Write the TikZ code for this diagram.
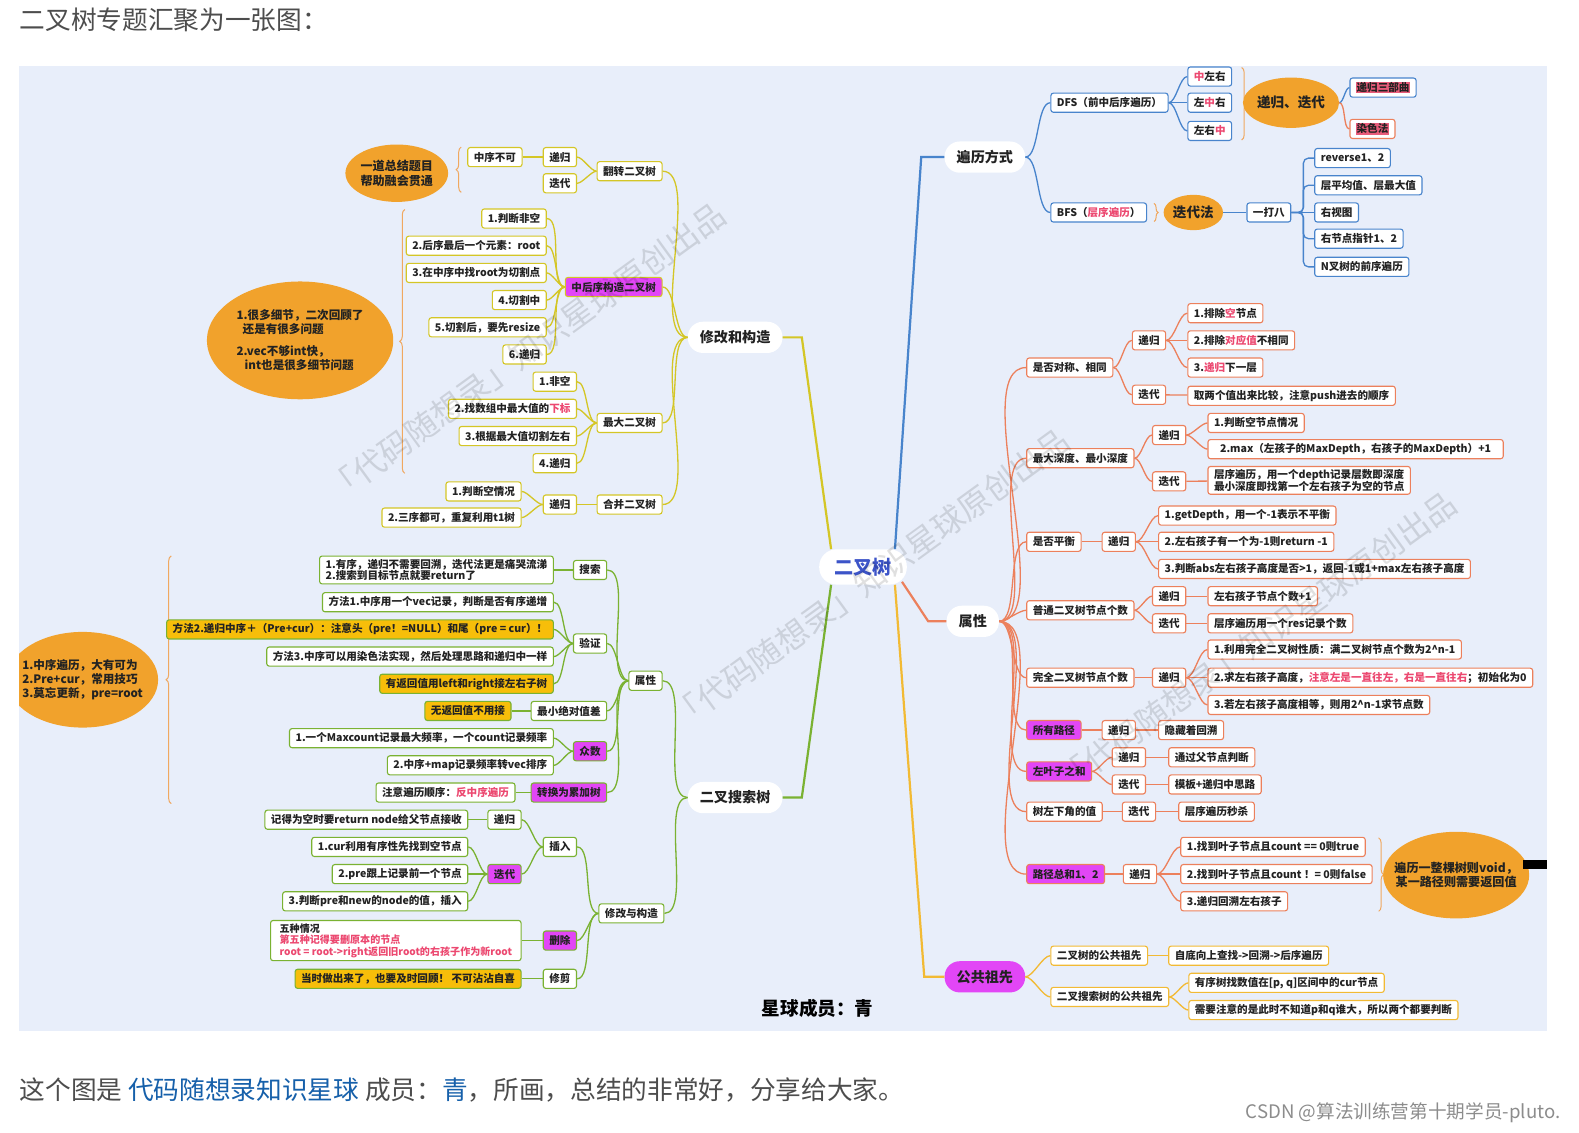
\documentclass[tikz,border=0pt]{standalone}
\usepackage{fontspec}
\setmainfont{Noto Sans CJK SC}
\usetikzlibrary{shapes.geometric,decorations.pathreplacing}

\definecolor{bgblue}{RGB}{232,238,250}
\definecolor{ylw}{RGB}{212,198,38}
\definecolor{grn}{RGB}{122,178,50}
\definecolor{blu}{RGB}{72,132,204}
\definecolor{org}{RGB}{236,128,92}
\definecolor{gld}{RGB}{242,186,52}
\definecolor{brc}{RGB}{240,168,96}
\definecolor{mgt}{RGB}{226,70,246}
\definecolor{hlt}{RGB}{247,190,10}
\definecolor{ell}{RGB}{241,162,44}
\definecolor{pnk}{RGB}{236,72,112}
\definecolor{txt}{RGB}{34,34,34}
\definecolor{rootblue}{RGB}{60,84,200}
\definecolor{hlred}{RGB}{232,92,122}
\definecolor{linkblue}{RGB}{22,96,170}
\definecolor{head}{RGB}{77,77,77}

\newcommand{\pk}[1]{\textcolor{pnk}{#1}}
\newcommand{\hlr}[1]{{\setlength{\fboxsep}{0.6pt}\colorbox{hlred}{#1}}}

\tikzset{
  box/.style={draw, fill=white, rounded corners=2.5pt, line width=1.1pt, text=txt,
    font=\bfseries\fontsize{10.5}{11.5}\selectfont, inner xsep=6pt, inner ysep=2pt,
    minimum height=19pt, align=left},
  ybox/.style={box, draw=ylw},
  gbox/.style={box, draw=grn},
  bbox/.style={box, draw=blu},
  obox/.style={box, draw=org},
  kbox/.style={box, draw=gld},
  mag/.style={fill=mgt},
  hi/.style={fill=hlt},
  pill/.style={fill=white, rounded corners=15pt, minimum height=31pt, inner xsep=12pt,
    text=txt, font=\bfseries\fontsize{14}{16}\selectfont},
  oval/.style={ellipse, fill=ell, inner sep=0pt, align=center, text=txt,
    font=\bfseries\fontsize{12}{14.5}\selectfont},
  brace/.style={draw=brc, line width=1pt, decorate, decoration={brace, amplitude=5pt}},
  trunk/.style={line width=2.2pt},
  lk/.style={out=0, in=180, looseness=0.6},
  yl/.style={draw=ylw, line width=1.3pt},
  gl/.style={draw=grn, line width=1.3pt},
  bl/.style={draw=blu, line width=1.3pt},
  ol/.style={draw=org, line width=1.3pt},
  kl/.style={draw=gld, line width=1.3pt},
  wm/.style={text=black, text opacity=0.12, font=\fontsize{32}{34}\selectfont}
}

\begin{document}
\begin{tikzpicture}[x=1pt,y=-1pt]
  \useasboundingbox (0,0) rectangle (1568,1125);
  % 背景和标题
  \fill[white] (0,0) rectangle (1568,1125);
  \fill[bgblue] (19,66) rectangle (1536,1024);
  \node[anchor=west, text=head, font=\fontsize{25.5}{30}\selectfont] (title) at (16,20) {二叉树专题汇聚为一张图：};

  % 中心主题
  \node[pill, text=rootblue, font=\bfseries\fontsize{19}{22}\selectfont, minimum height=35pt,
    inner xsep=15pt, rounded corners=17pt] (root) at (857,563) {二叉树};

  % 一级主题
  \node[pill] (xggz) at (730,335) {修改和构造};
  \node[pill] (bst) at (730,792) {二叉搜索树};
  \node[pill] (blfs) at (978,156) {遍历方式};
  \node[pill] (sx) at (966,617) {属性};
  \node[pill, mag] (ggzx) at (978,970) {公共祖先};

  \draw[trunk, ylw] (root.north west) ++(12,0) -- ([xshift=19pt]xggz.east) -- (xggz.east);
  \draw[trunk, grn] (root.south west) ++(12,0) -- ([xshift=19pt]bst.east) -- (bst.east);
  \draw[trunk, blu] (root.north east) ++(-12,0) -- ([xshift=-23pt]blfs.west) -- (blfs.west);
  \draw[trunk, org] (root.south east) ++(-5,-3) -- ([xshift=-18pt]sx.west) -- (sx.west);
  \draw[trunk, gld] (root.south east) ++(-12,0) -- ([xshift=-20pt]ggzx.west) -- (ggzx.west);

  % 修改和构造：翻转二叉树
  \node[oval, minimum width=102pt, minimum height=57pt] (ydzj) at (394,172) {一道总结题目\\帮助融会贯通};
  \draw[brace] (458,191) -- (458,146);
  \node[ybox, anchor=east] (zxbk) at (519,156) {中序不可};
  \node[ybox] (fzdg) at (556,156) {递归};
  \node[ybox] (fzdd) at (556,182) {迭代};
  \node[ybox, anchor=east] (fzecs) at (658,170) {翻转二叉树};
  \draw[yl] (zxbk) -- (fzdg);
  \draw[yl] (fzdg.east) to[lk] (fzecs.west);
  \draw[yl] (fzdd.east) to[lk] (fzecs.west);

  % 修改和构造：中后序构造二叉树
  \draw[brace] (402,470) -- (402,208);
  \node[oval, minimum width=185pt, minimum height=117pt, align=left, font=\bfseries\fontsize{11.5}{14}\selectfont] (xjwt) at (298,338)
    {1.很多细节，二次回顾了\\\hspace*{6pt}还是有很多问题\\[8pt]2.vec不够int快，\\\hspace*{8pt}int也是很多细节问题};
  \node[ybox, anchor=east] (zh1) at (543,217) {1.判断非空};
  \node[ybox, anchor=east] (zh2) at (543,244) {2.后序最后一个元素：root};
  \node[ybox, anchor=east] (zh3) at (543,271) {3.在中序中找root为切割点};
  \node[ybox, anchor=east] (zh4) at (543,298) {4.切割中};
  \node[ybox, anchor=east] (zh5) at (543,325) {5.切割后，要先resize};
  \node[ybox, anchor=east] (zh6) at (543,352) {6.递归};
  \node[ybox, mag, anchor=east] (zhgz) at (658,285) {中后序构造二叉树};
  \draw[yl] (zh1.east) to[lk] (zhgz.west);
  \draw[yl] (zh2.east) to[lk] (zhgz.west);
  \draw[yl] (zh3.east) to[lk] (zhgz.west);
  \draw[yl] (zh4.east) to[lk] (zhgz.west);
  \draw[yl] (zh5.east) to[lk] (zhgz.west);
  \draw[yl] (zh6.east) to[lk] (zhgz.west);

  % 修改和构造：最大二叉树
  \node[ybox, anchor=east] (zd1) at (573,379) {1.非空};
  \node[ybox, anchor=east] (zd2) at (573,406) {2.找数组中最大值的\pk{下标}};
  \node[ybox, anchor=east] (zd3) at (573,433) {3.根据最大值切割左右};
  \node[ybox, anchor=east] (zd4) at (573,460) {4.递归};
  \node[ybox, anchor=east] (zdec) at (658,420) {最大二叉树};
  \draw[yl] (zd1.east) to[lk] (zdec.west);
  \draw[yl] (zd2.east) to[lk] (zdec.west);
  \draw[yl] (zd3.east) to[lk] (zdec.west);
  \draw[yl] (zd4.east) to[lk] (zdec.west);

  % 修改和构造：合并二叉树
  \node[ybox, anchor=east] (hb1) at (518,488) {1.判断空情况};
  \node[ybox, anchor=east] (hb2) at (518,514) {2.三序都可，重复利用t1树};
  \node[ybox] (hbdg) at (556,501) {递归};
  \node[ybox, anchor=east] (hbecs) at (658,501) {合并二叉树};
  \draw[yl] (hb1.east) to[lk] (hbdg.west);
  \draw[yl] (hb2.east) to[lk] (hbdg.west);
  \draw[yl] (hbdg) -- (hbecs);

  \draw[yl] (fzecs.east) to[lk] (xggz.west);
  \draw[yl] (zhgz.east) to[lk] (xggz.west);
  \draw[yl] (zdec.east) to[lk] (xggz.west);
  \draw[yl] (hbecs.east) to[lk] (xggz.west);

  % 二叉搜索树：属性
  \begin{scope}
    \clip (19,66) rectangle (1536,1024);
    \node[oval, minimum width=150pt, minimum height=95pt, inner xsep=-9pt, align=left, font=\bfseries\fontsize{11.5}{14}\selectfont] (zxbl) at (82,675)
      {1.中序遍历，大有可为\\2.Pre+cur，常用技巧\\3.莫忘更新，pre=root};
  \end{scope}
  \draw[brace] (170,798) -- (170,552);
  \node[gbox, anchor=east, inner ysep=3pt] (sst) at (550,566) {1.有序，递归不需要回溯，迭代法更是痛哭流涕\\2.搜索到目标节点就要return了};
  \node[gbox, anchor=east] (ss) at (603,566) {搜索};
  \draw[gl] (sst) -- (ss);
  \node[gbox, anchor=east] (yz1) at (550,598) {方法1.中序用一个vec记录，判断是否有序递增};
  \node[gbox, hi, anchor=east] (yz2) at (550,625) {方法2.递归中序＋（Pre+cur）：注意头（pre！=NULL）和尾（pre = cur）！};
  \node[gbox, anchor=east] (yz3) at (550,652) {方法3.中序可以用染色法实现，然后处理思路和递归中一样};
  \node[gbox, hi, anchor=east] (yz4) at (550,679) {有返回值用left和right接左右子树};
  \node[gbox, anchor=east] (yz) at (603,639) {验证};
  \draw[gl] (yz1.east) to[lk] (yz.west);
  \draw[gl] (yz2.east) to[lk] (yz.west);
  \draw[gl] (yz3.east) to[lk] (yz.west);
  \draw[gl] (yz4.east) to[lk] (yz.west);
  \node[gbox, hi, anchor=east] (wfh) at (508,706) {无返回值不用接};
  \node[gbox, anchor=east] (zxjdz) at (603,706) {最小绝对值差};
  \draw[gl] (wfh) -- (zxjdz);
  \node[gbox, anchor=east] (zs1) at (550,733) {1.一个Maxcount记录最大频率，一个count记录频率};
  \node[gbox, anchor=east] (zs2) at (550,760) {2.中序+map记录频率转vec排序};
  \node[gbox, mag, anchor=east] (zs) at (603,746) {众数};
  \draw[gl] (zs1.east) to[lk] (zs.west);
  \draw[gl] (zs2.east) to[lk] (zs.west);
  \node[gbox, anchor=east] (zhl) at (512,787) {注意遍历顺序：\pk{反中序遍历}};
  \node[gbox, mag, anchor=east] (zhljs) at (603,787) {转换为累加树};
  \draw[gl] (zhl) -- (zhljs);
  \node[gbox] (bstsx) at (641,676) {属性};
  \draw[gl] (ss.east) to[lk] (bstsx.west);
  \draw[gl] (yz.east) to[lk] (bstsx.west);
  \draw[gl] (zxjdz.east) to[lk] (bstsx.west);
  \draw[gl] (zs.east) to[lk] (bstsx.west);
  \draw[gl] (zhljs.east) to[lk] (bstsx.west);

  % 二叉搜索树：修改与构造
  \node[gbox, anchor=east] (crt) at (465,814) {记得为空时要return node给父节点接收};
  \node[gbox] (crdg) at (501,814) {递归};
  \draw[gl] (crt) -- (crdg);
  \node[gbox, anchor=east] (cr1) at (465,841) {1.cur利用有序性先找到空节点};
  \node[gbox, anchor=east] (cr2) at (465,868) {2.pre跟上记录前一个节点};
  \node[gbox, anchor=east] (cr3) at (465,895) {3.判断pre和new的node的值，插入};
  \node[gbox, mag] (crdd) at (501,868) {迭代};
  \draw[gl] (cr1.east) to[lk] (crdd.west);
  \draw[gl] (cr2.east) to[lk] (crdd.west);
  \draw[gl] (cr3.east) to[lk] (crdd.west);
  \node[gbox] (cr) at (556,841) {插入};
  \draw[gl] (crdg.east) to[lk] (cr.west);
  \draw[gl] (crdd.east) to[lk] (cr.west);
  \node[gbox, anchor=east, inner xsep=9pt, inner ysep=3pt, font=\bfseries\fontsize{10}{11.5}\selectfont] (sct) at (518,934)
    {五种情况\\\pk{第五种记得要删原本的节点}\\\pk{root = root->right返回旧root的右孩子作为新root}};
  \node[gbox, mag] (sc) at (556,934) {删除};
  \draw[gl] (sct) -- (sc);
  \node[gbox, hi, anchor=east] (xjt) at (518,972) {当时做出来了，也要及时回顾！ 不可沾沾自喜};
  \node[gbox] (xj) at (556,972) {修剪};
  \draw[gl] (xjt) -- (xj);
  \node[gbox] (xggz2) at (627,907) {修改与构造};
  \draw[gl] (cr.east) to[lk] (xggz2.west);
  \draw[gl] (sc.east) to[lk] (xggz2.west);
  \draw[gl] (xj.east) to[lk] (xggz2.west);

  \draw[gl] (bstsx.east) to[lk] (bst.west);
  \draw[gl] (xggz2.east) to[lk] (bst.west);

  % 遍历方式
  \node[bbox, anchor=west] (dfs) at (1043,102) {DFS（前中后序遍历）};
  \node[bbox, anchor=west] (bfs) at (1043,211) {BFS（\pk{层序遍历}）};
  \draw[bl] (blfs.east) to[lk] (dfs.west);
  \draw[bl] (blfs.east) to[lk] (bfs.west);
  \node[bbox, anchor=west] (d1) at (1179,76) {\pk{中}左右};
  \node[bbox, anchor=west] (d2) at (1179,102) {左\pk{中}右};
  \node[bbox, anchor=west] (d3) at (1179,130) {左右\pk{中}};
  \draw[bl] (dfs.east) to[lk] (d1.west);
  \draw[bl] (dfs) -- (d2);
  \draw[bl] (dfs.east) to[lk] (d3.west);
  \draw[brace] (1233,67) -- (1233,139);
  \node[oval, minimum width=79pt, minimum height=50pt, font=\bfseries\fontsize{13.5}{16}\selectfont] (dgdd) at (1282,102) {递归、迭代};
  \node[bbox, anchor=west] (sbq) at (1340,87) {\hlr{递归三部曲}};
  \node[obox, anchor=west] (rsf) at (1340,128) {\hlr{染色法}};
  \draw[bl] (dgdd.east) to[lk] (sbq.west);
  \draw[ol] (dgdd.east) to[lk] (rsf.west);
  \draw[brace, decoration={brace, amplitude=4pt}] (1146,202) -- (1146,220);
  \node[oval, minimum width=59pt, minimum height=35pt, font=\bfseries\fontsize{13.5}{16}\selectfont] (ddf) at (1185,211) {迭代法};
  \node[bbox] (ydb) at (1260,211) {一打八};
  \draw[bl] (ddf) -- (ydb);
  \node[bbox, anchor=west] (b1) at (1305,157) {reverse1、2};
  \node[bbox, anchor=west] (b2) at (1305,184) {层平均值、层最大值};
  \node[bbox, anchor=west] (b3) at (1305,211) {右视图};
  \node[bbox, anchor=west] (b4) at (1305,237) {右节点指针1、2};
  \node[bbox, anchor=west] (b5) at (1305,265) {N叉树的前序遍历};
  \draw[bl, rounded corners=5pt] (ydb.east) -- ++(12,0) |- (b1.west);
  \draw[bl, rounded corners=5pt] (ydb.east) -- ++(12,0) |- (b2.west);
  \draw[bl] (ydb) -- (b3);
  \draw[bl, rounded corners=5pt] (ydb.east) -- ++(12,0) |- (b4.west);
  \draw[bl, rounded corners=5pt] (ydb.east) -- ++(12,0) |- (b5.west);

  % 属性：是否对称、最大深度
  \node[obox, anchor=west] (dc) at (1019,365) {是否对称、相同};
  \node[obox] (dcdg) at (1141,338) {递归};
  \node[obox] (dcdd) at (1141,392) {迭代};
  \draw[ol] (dc.east) to[lk] (dcdg.west);
  \draw[ol] (dc.east) to[lk] (dcdd.west);
  \node[obox, anchor=west] (dc1) at (1179,311) {1.排除\pk{空}节点};
  \node[obox, anchor=west] (dc2) at (1179,338) {2.排除\pk{对应值}不相同};
  \node[obox, anchor=west] (dc3) at (1179,365) {3.\pk{递归}下一层};
  \node[obox, anchor=west] (dc4) at (1179,393) {取两个值出来比较，注意push进去的顺序};
  \draw[ol] (dcdg.east) to[lk] (dc1.west);
  \draw[ol] (dcdg) -- (dc2);
  \draw[ol] (dcdg.east) to[lk] (dc3.west);
  \draw[ol] (dcdd) -- (dc4);
  \node[obox, anchor=west] (sd) at (1019,455) {最大深度、最小深度};
  \node[obox] (sddg) at (1161,432) {递归};
  \node[obox] (sddd) at (1161,478) {迭代};
  \draw[ol] (sd.east) to[lk] (sddg.west);
  \draw[ol] (sd.east) to[lk] (sddd.west);
  \node[obox, anchor=west] (sd1) at (1199,420) {1.判断空节点情况};
  \node[obox, anchor=west, inner xsep=12pt] (sd2) at (1199,446) {2.max（左孩子的MaxDepth，右孩子的MaxDepth）+1};
  \node[obox, anchor=west, inner ysep=3pt] (sd3) at (1199,477) {层序遍历，用一个depth记录层数即深度\\最小深度即找第一个左右孩子为空的节点};
  \draw[ol] (sddg.east) to[lk] (sd1.west);
  \draw[ol] (sddg.east) to[lk] (sd2.west);
  \draw[ol] (sddd) -- (sd3);

  % 属性：平衡、节点个数
  \node[obox, anchor=west] (ph) at (1019,538) {是否平衡};
  \node[obox] (phdg) at (1111,538) {递归};
  \draw[ol] (ph) -- (phdg);
  \node[obox, anchor=west] (ph1) at (1150,512) {1.getDepth，用一个-1表示不平衡};
  \node[obox, anchor=west] (ph2) at (1150,538) {2.左右孩子有一个为-1则return -1};
  \node[obox, anchor=west] (ph3) at (1150,565) {3.判断abs左右孩子高度是否>1，返回-1或1+max左右孩子高度};
  \draw[ol] (phdg.east) to[lk] (ph1.west);
  \draw[ol] (phdg) -- (ph2);
  \draw[ol] (phdg.east) to[lk] (ph3.west);
  \node[obox, anchor=west] (pt) at (1019,606) {普通二叉树节点个数};
  \node[obox] (ptdg) at (1161,592) {递归};
  \node[obox] (ptdd) at (1161,619) {迭代};
  \draw[ol] (pt.east) to[lk] (ptdg.west);
  \draw[ol] (pt.east) to[lk] (ptdd.west);
  \node[obox, anchor=west] (pt1) at (1199,592) {左右孩子节点个数+1};
  \node[obox, anchor=west] (pt2) at (1199,619) {层序遍历用一个res记录个数};
  \draw[ol] (ptdg) -- (pt1);
  \draw[ol] (ptdd) -- (pt2);
  \node[obox, anchor=west] (wq) at (1019,673) {完全二叉树节点个数};
  \node[obox] (wqdg) at (1161,673) {递归};
  \draw[ol] (wq) -- (wqdg);
  \node[obox, anchor=west] (wq1) at (1199,645) {1.利用完全二叉树性质：满二叉树节点个数为2\textasciicircum n-1};
  \node[obox, anchor=west] (wq2) at (1199,673) {2.求左右孩子高度，\pk{注意左是一直往左，右是一直往右}；初始化为0};
  \node[obox, anchor=west] (wq3) at (1199,700) {3.若左右孩子高度相等，则用2\textasciicircum n-1求节点数};
  \draw[ol] (wqdg.east) to[lk] (wq1.west);
  \draw[ol] (wqdg) -- (wq2);
  \draw[ol] (wqdg.east) to[lk] (wq3.west);

  % 属性：路径相关
  \node[obox, mag, anchor=west] (syl) at (1019,725) {所有路径};
  \node[obox] (syldg) at (1111,725) {递归};
  \node[obox, anchor=west] (sylt) at (1150,725) {隐藏着回溯};
  \draw[ol] (syl) -- (syldg);
  \draw[ol] (syldg) -- (sylt);
  \node[obox, mag, anchor=west] (zyz) at (1019,766) {左叶子之和};
  \node[obox] (zyzdg) at (1121,752) {递归};
  \node[obox] (zyzdd) at (1121,779) {迭代};
  \draw[ol] (zyz.east) to[lk] (zyzdg.west);
  \draw[ol] (zyz.east) to[lk] (zyzdd.west);
  \node[obox, anchor=west] (zyz1) at (1160,752) {通过父节点判断};
  \node[obox, anchor=west] (zyz2) at (1160,779) {模板+递归中思路};
  \draw[ol] (zyzdg) -- (zyz1);
  \draw[ol] (zyzdd) -- (zyz2);
  \node[obox, anchor=west] (zxj) at (1019,806) {树左下角的值};
  \node[obox] (zxjdd) at (1131,806) {迭代};
  \node[obox, anchor=west] (zxjt) at (1170,806) {层序遍历秒杀};
  \draw[ol] (zxj) -- (zxjdd);
  \draw[ol] (zxjdd) -- (zxjt);
  \node[obox, mag, anchor=west] (ljzh) at (1019,868) {路径总和1、2};
  \node[obox] (ljdg) at (1132,868) {递归};
  \draw[ol] (ljzh) -- (ljdg);
  \node[obox, anchor=west] (lj1) at (1172,841) {1.找到叶子节点且count == 0则true};
  \node[obox, anchor=west] (lj2) at (1172,868) {2.找到叶子节点且count ！= 0则false};
  \node[obox, anchor=west] (lj3) at (1172,895) {3.递归回溯左右孩子};
  \draw[ol] (ljdg.east) to[lk] (lj1.west);
  \draw[ol] (ljdg) -- (lj2);
  \draw[ol] (ljdg.east) to[lk] (lj3.west);
  \draw[brace] (1369,832) -- (1369,905);
  \node[oval, minimum width=140pt, minimum height=86pt, inner xsep=-10pt] (ljbl) at (1446,869) {遍历一整棵树则void，\\某一路径则需要返回值};
  \draw[line width=9pt, black] ([xshift=-6pt,yshift=11pt]ljbl.east) -- (1536,858);

  \draw[ol] (sx.east) to[lk] (dc.west);
  \draw[ol] (sx.east) to[lk] (sd.west);
  \draw[ol] (sx.east) to[lk] (ph.west);
  \draw[ol] (sx.east) to[lk] (pt.west);
  \draw[ol] (sx.east) to[lk] (wq.west);
  \draw[ol] (sx.east) to[lk] (syl.west);
  \draw[ol] (sx.east) to[lk] (zyz.west);
  \draw[ol] (sx.east) to[lk] (zxj.west);
  \draw[ol] (sx.east) to[lk] (ljzh.west);

  % 公共祖先
  \node[kbox, anchor=west] (g1) at (1043,949) {二叉树的公共祖先};
  \node[kbox, anchor=west] (g1t) at (1160,949) {自底向上查找->回溯->后序遍历};
  \node[kbox, anchor=west] (g2) at (1043,990) {二叉搜索树的公共祖先};
  \node[kbox, anchor=west] (g2a) at (1180,976) {有序树找数值在[p, q]区间中的cur节点};
  \node[kbox, anchor=west] (g2b) at (1180,1003) {需要注意的是此时不知道p和q谁大，所以两个都要判断};
  \draw[kl] (ggzx.east) to[lk] (g1.west);
  \draw[kl] (ggzx.east) to[lk] (g2.west);
  \draw[kl] (g1) -- (g1t);
  \draw[kl] (g2.east) to[lk] (g2a.west);
  \draw[kl] (g2.east) to[lk] (g2b.west);

  \node[text=black, font=\bfseries\fontsize{18.5}{21}\selectfont] (cy) at (812,1001) {星球成员：青};

  % 水印
  \node[wm, rotate=36] (wm1) at (522,350) {「代码随想录」知识星球原创出品};
  \node[wm, rotate=36] (wm2) at (864,575) {「代码随想录」知识星球原创出品};
  \node[wm, rotate=36] (wm3) at (1248,637) {「代码随想录」知识星球原创出品};

  % 底部文字
  \node[anchor=west, text=head, font=\fontsize{25.5}{30}\selectfont] (note) at (16,1082)
    {这个图是 \textcolor{linkblue}{代码随想录知识星球} 成员：\textcolor{linkblue}{青}，所画，总结的非常好，分享给大家。};
  \node[anchor=east, text=black!45, font=\fontsize{18.5}{20}\selectfont] (csdn) at (1553,1105) {CSDN @算法训练营第十期学员-pluto.};
\end{tikzpicture}
\end{document}
